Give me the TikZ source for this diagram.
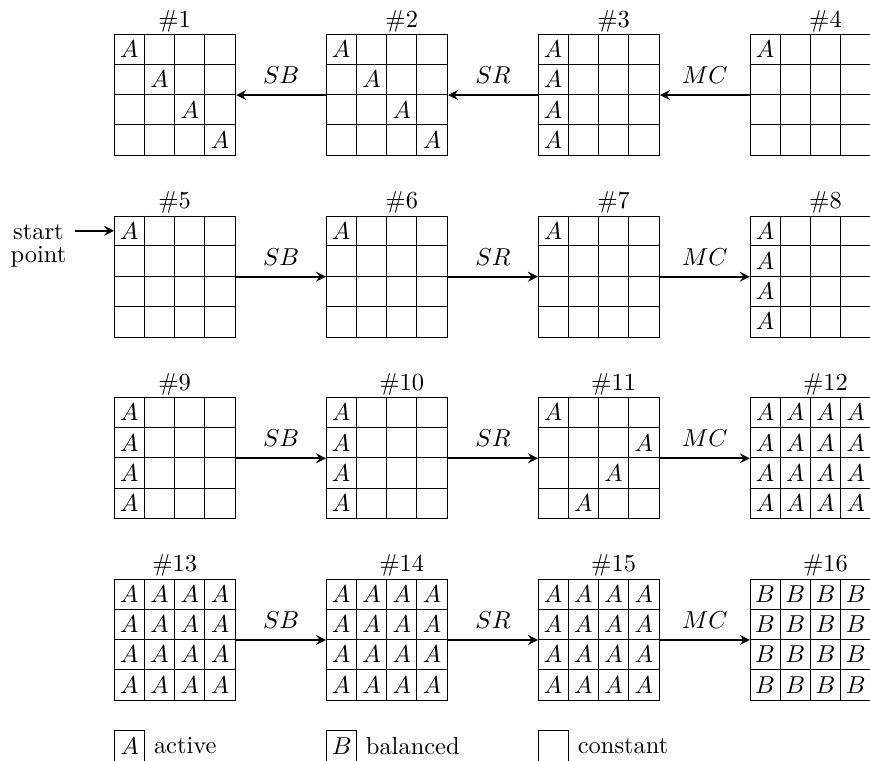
\documentclass[tikz,border=0pt]{standalone}
\usetikzlibrary{positioning,calc}

\begin{document}
\begin{tikzpicture}[x=0.435cm, y=0.435cm,
    state/.style={draw, minimum size=1.74cm, inner sep=0pt, anchor=north west},
    keybox/.style={draw, minimum size=0.435cm, inner sep=0pt, anchor=north west},
    flow/.style={-stealth, thick}]
  \useasboundingbox (-3.77,1.124) rectangle (24.97,-23.99);

  % the sixteen states
  \foreach \n in {1,...,16} {
    \pgfmathtruncatemacro{\c}{mod(\n-1,4)}
    \pgfmathtruncatemacro{\r}{(\n-1)/4}
    \pgfmathsetmacro{\tx}{\c>0 ? 2.5 : 2}
    \begin{scope}[shift={(7*\c,-6*\r)}]
      \node[state] (g\n) at (0,0) {};
      \foreach \k in {1,2,3} {
        \draw (\k,0) -- (\k,-4);
        \draw (0,-\k) -- (4,-\k);
      }
      \node[anchor=base] (t\n) at (\tx,0.23) {\#\n};
    \end{scope}
  }

  % active cells
  \foreach \n/\cells in {1/{11,22,33,44}, 2/{11,22,33,44}, 3/{11,21,31,41},
      4/{11}, 5/{11}, 6/{11}, 7/{11}, 8/{11,21,31,41}, 9/{11,21,31,41},
      10/{11,21,31,41}, 11/{11,24,33,42}}
    \foreach \p in \cells {
      \pgfmathtruncatemacro{\i}{\p/10}
      \pgfmathtruncatemacro{\j}{mod(\p,10)}
      \node (a\n-\p) at ($(g\n.north west)+(\j-0.5,0.5-\i)$) {$A$};
    }

  % full states
  \foreach \n/\lt in {12/A, 13/A, 14/A, 15/A, 16/B}
    \foreach \i in {1,...,4}
      \foreach \j in {1,...,4}
        \node (a\n-\i\j) at ($(g\n.north west)+(\j-0.5,0.5-\i)$) {$\lt$};

  % rounds
  \foreach \a/\b/\op [count=\k] in {2.west/1.east/SB, 3.west/2.east/SR, 4.west/3.east/MC,
      5.east/6.west/SB, 6.east/7.west/SR, 7.east/8.west/MC,
      9.east/10.west/SB, 10.east/11.west/SR, 11.east/12.west/MC,
      13.east/14.west/SB, 14.east/15.west/SR, 15.east/16.west/MC}
    \draw[flow] (g\a) -- node[above=1pt] (op\k) {$\op$} (g\b);

  % start
  \node[align=center] (start) at (-2.5,-7) {start\\[-2.6pt]point};
  \coordinate (in5) at (0,-6.5);
  \draw[flow] (start.east |- in5) -- (in5);

  % legend
  \node[keybox] (kA) at (0,-23) {$A$};
  \node[right=0pt of kA] (lA) {active};
  \node[keybox] (kB) at (7,-23) {$B$};
  \node[right=0pt of kB] (lB) {balanced};
  \node[keybox] (kC) at (14,-23) {};
  \node[right=0pt of kC] (lC) {constant};
\end{tikzpicture}
\end{document}
